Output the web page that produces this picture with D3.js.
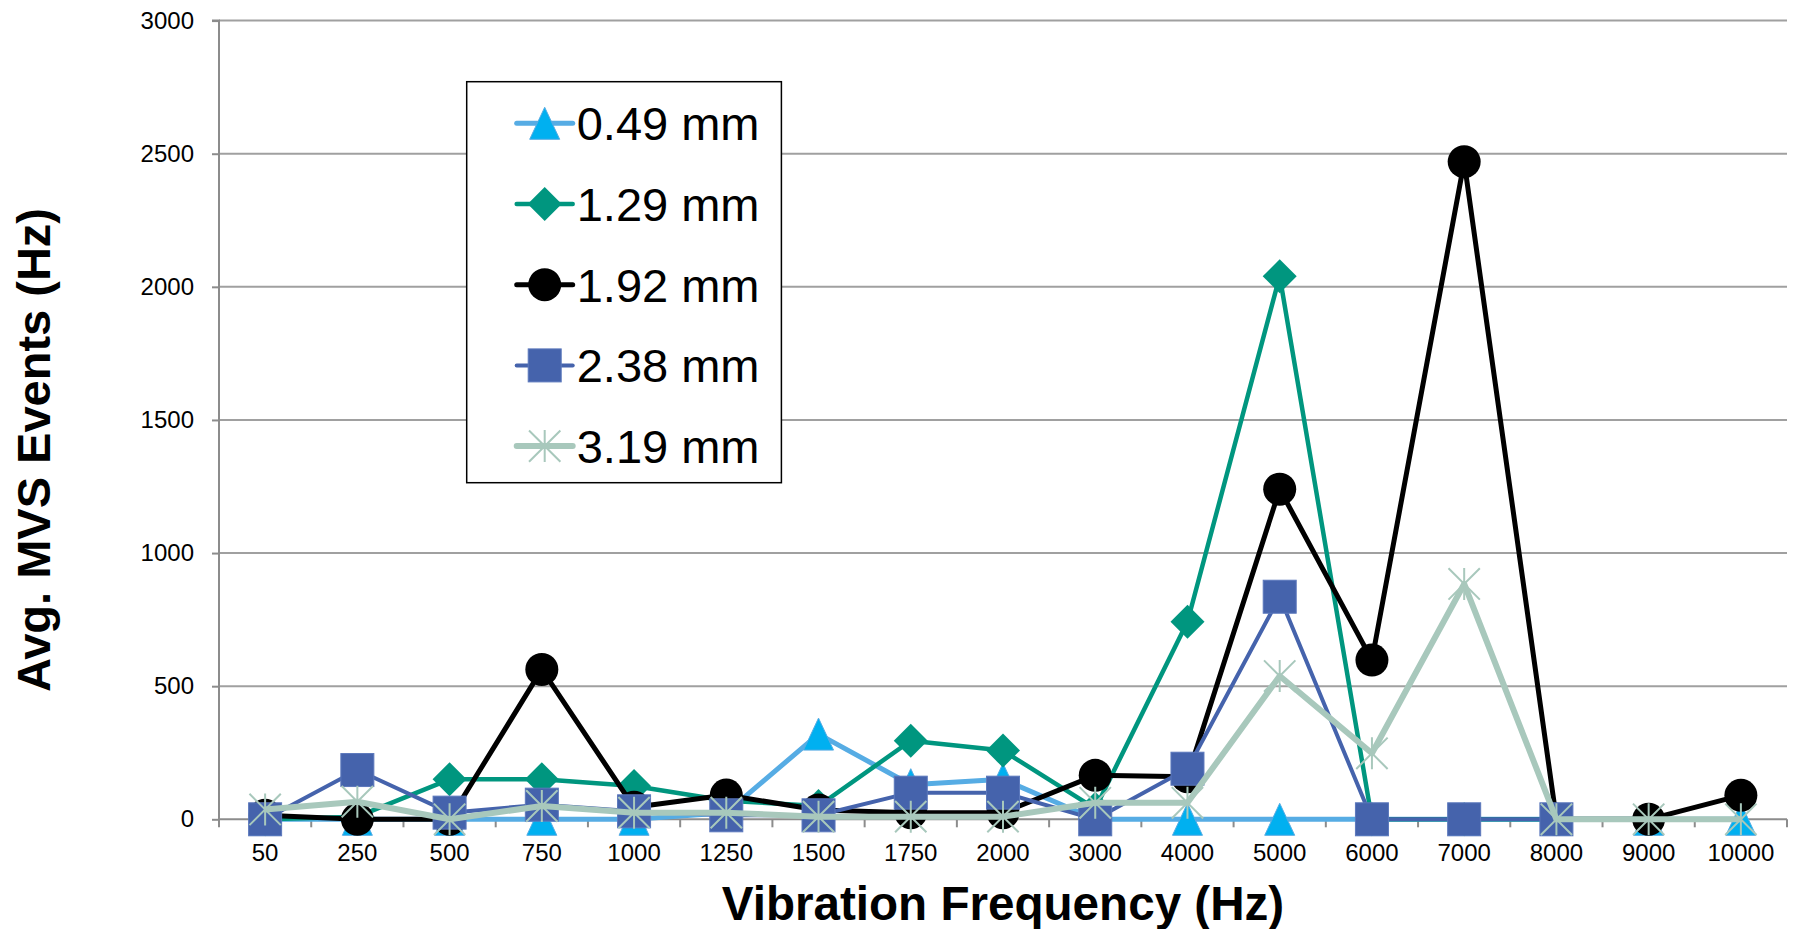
<!DOCTYPE html>
<html>
<head>
<meta charset="utf-8">
<script src="https://cdn.jsdelivr.net/npm/d3@7"></script>
<style>
  html, body { margin: 0; padding: 0; background: #fff; }
  svg { display: block; }
  text { font-family: "Liberation Sans", Arial, sans-serif; }
</style>
</head>
<body>
<svg id="chart" width="1794" height="929"></svg>
<script>
// ---- data ----
const categories = ["50","250","500","750","1000","1250","1500","1750","2000","3000","4000","5000","6000","7000","8000","9000","10000"];
const seriesNames = ["0.49 mm","1.29 mm","1.92 mm","2.38 mm","3.19 mm"];
const s049 = [0, 0, 0, 0, 0, 25, 320, 130, 150, 0, 0, 0, 0, 0, 0, 0, 0];
const s129 = [0, 10, 150, 150, 125, 70, 50, 295, 258, 40, 742, 2040, 0, 0, 0, null, null];
const s192 = [15, 0, 0, 563, 45, 91, 35, 25, 25, 165, 160, 1240, 598, 2470, 0, 0, 90];
const s238 = [0, 185, 25, 55, 30, 15, 15, 100, 100, 0, 190, 836, 0, 0, 0, null, null];
const s319 = [37, 66, 0, 50, 25, 25, 10, 10, 10, 62, 62, 538, 248, 884, 0, 0, 0];
const yTicks = [0, 500, 1000, 1500, 2000, 2500, 3000];
const xTitle = "Vibration Frequency (Hz)";
const yTitle = "Avg. MVS Events (Hz)";

// ---- styles ----
const styles = [
  { values: s049, line: "#56ACE4", fill: "#00B0F0", width: 5, marker: "triangle" },
  { values: s129, line: "#00967F", fill: "#00967F", width: 4.5, marker: "diamond" },
  { values: s192, line: "#000000", fill: "#000000", width: 5, marker: "circle" },
  { values: s238, line: "#4563AC", fill: "#4563AC", width: 4, marker: "square" },
  { values: s319, line: "#A8C8BC", fill: "#A8C8BC", width: 6, marker: "star" }
];

const svg = d3.select("#chart");
const pLeft = 219, pRight = 1787, pTop = 20.6, pBottom = 819.3;

const x = d3.scaleBand().domain(categories).range([pLeft, pRight]).paddingInner(0).paddingOuter(0);
const y = d3.scaleLinear().domain([0, 3000]).range([pBottom, pTop]);
const cx = c => x(c) + x.bandwidth() / 2;

// gridlines
svg.append("g").selectAll("line").data(yTicks.filter(t => t > 0)).join("line")
  .attr("x1", pLeft).attr("x2", pRight)
  .attr("y1", d => y(d)).attr("y2", d => y(d))
  .attr("stroke", "#A0A0A0").attr("stroke-width", 2);

// y axis
const yAxis = d3.axisLeft(y).tickValues(yTicks).tickSize(7).tickPadding(18).tickFormat(d3.format("d"));
const gy = svg.append("g").attr("transform", `translate(${pLeft},0)`).call(yAxis);
gy.select(".domain").attr("stroke", "#8C8C8C").attr("stroke-width", 2).attr("d", `M-7,${pTop}H0V${pBottom}`);
gy.selectAll(".tick line").attr("stroke", "#8C8C8C").attr("stroke-width", 2);
gy.selectAll(".tick text").attr("font-size", 24).attr("fill", "#000")
  .attr("font-family", '"Liberation Sans", Arial, sans-serif');

// x axis
const gx = svg.append("g").attr("transform", `translate(0,${pBottom})`)
  .call(d3.axisBottom(x).tickSize(0).tickPadding(0));
gx.select(".domain").attr("stroke", "#8C8C8C").attr("stroke-width", 2).attr("d", `M${pLeft},0H${pRight}`);
gx.selectAll(".tick text").attr("font-size", 24).attr("fill", "#000").attr("dy", null).attr("y", 42)
  .attr("font-family", '"Liberation Sans", Arial, sans-serif');
// boundary tick marks
const bounds = categories.map(c => x(c)).concat([pRight]);
gx.append("g").selectAll("line").data(bounds).join("line")
  .attr("x1", d => d).attr("x2", d => d).attr("y1", 0).attr("y2", 8)
  .attr("stroke", "#8C8C8C").attr("stroke-width", 2);

// marker drawing
function drawMarker(g, type, px, py, st) {
  if (type === "triangle") {
    g.append("path").attr("d", `M${px},${py - 16}L${px + 15},${py + 16}L${px - 15},${py + 16}Z`)
      .attr("fill", st.fill).attr("stroke", st.line).attr("stroke-width", 1);
  } else if (type === "diamond") {
    g.append("path").attr("d", `M${px},${py - 17}L${px + 17},${py}L${px},${py + 17}L${px - 17},${py}Z`)
      .attr("fill", st.fill);
  } else if (type === "circle") {
    g.append("circle").attr("cx", px).attr("cy", py).attr("r", 16.5).attr("fill", st.fill);
  } else if (type === "square") {
    g.append("rect").attr("x", px - 16.5).attr("y", py - 16.5).attr("width", 33).attr("height", 33)
      .attr("fill", st.fill).attr("stroke", "#5B78BC").attr("stroke-width", 1);
  } else if (type === "star") {
    const r = 16;
    const d = r * 0.98;
    g.append("path")
      .attr("d", `M${px},${py - r}V${py + r}M${px - d},${py - d}L${px + d},${py + d}M${px - d},${py + d}L${px + d},${py - d}`)
      .attr("stroke", st.line).attr("stroke-width", 2).attr("fill", "none");
  }
}

// series
const line = d3.line().defined(d => d.v !== null).x(d => cx(d.c)).y(d => y(d.v));
styles.forEach(st => {
  const pts = categories.map((c, i) => ({ c, v: st.values[i] }));
  const g = svg.append("g");
  g.append("path").datum(pts).attr("d", line).attr("fill", "none")
    .attr("stroke", st.line).attr("stroke-width", st.width).attr("stroke-linejoin", "round");
  pts.filter(p => p.v !== null).forEach(p => drawMarker(g, st.marker, cx(p.c), y(p.v), st));
});

// legend
const lg = svg.append("g");
lg.append("rect").attr("x", 466.7).attr("y", 81.7).attr("width", 314.7).attr("height", 401)
  .attr("fill", "#fff").attr("stroke", "#000").attr("stroke-width", 1.5);
styles.forEach((st, i) => {
  const ly = 123.3 + i * 80.7;
  lg.append("line").attr("x1", 516.7).attr("x2", 572.7).attr("y1", ly).attr("y2", ly)
    .attr("stroke", st.line).attr("stroke-width", st.width).attr("stroke-linecap", "round");
  drawMarker(lg, st.marker, 544.7, ly, st);
  lg.append("text").attr("x", 576.7).attr("y", ly + 16.8).attr("font-size", 47).attr("fill", "#000")
    .text(seriesNames[i]);
});

// titles
svg.append("text").attr("x", (pLeft + pRight) / 2).attr("y", 920).attr("text-anchor", "middle")
  .attr("font-size", 47.6).attr("font-weight", "bold").attr("fill", "#000").text(xTitle);
svg.append("text").attr("transform", "translate(50,450) rotate(-90)").attr("text-anchor", "middle")
  .attr("font-size", 47).attr("font-weight", "bold").attr("fill", "#000").text(yTitle);
</script>
</body>
</html>
